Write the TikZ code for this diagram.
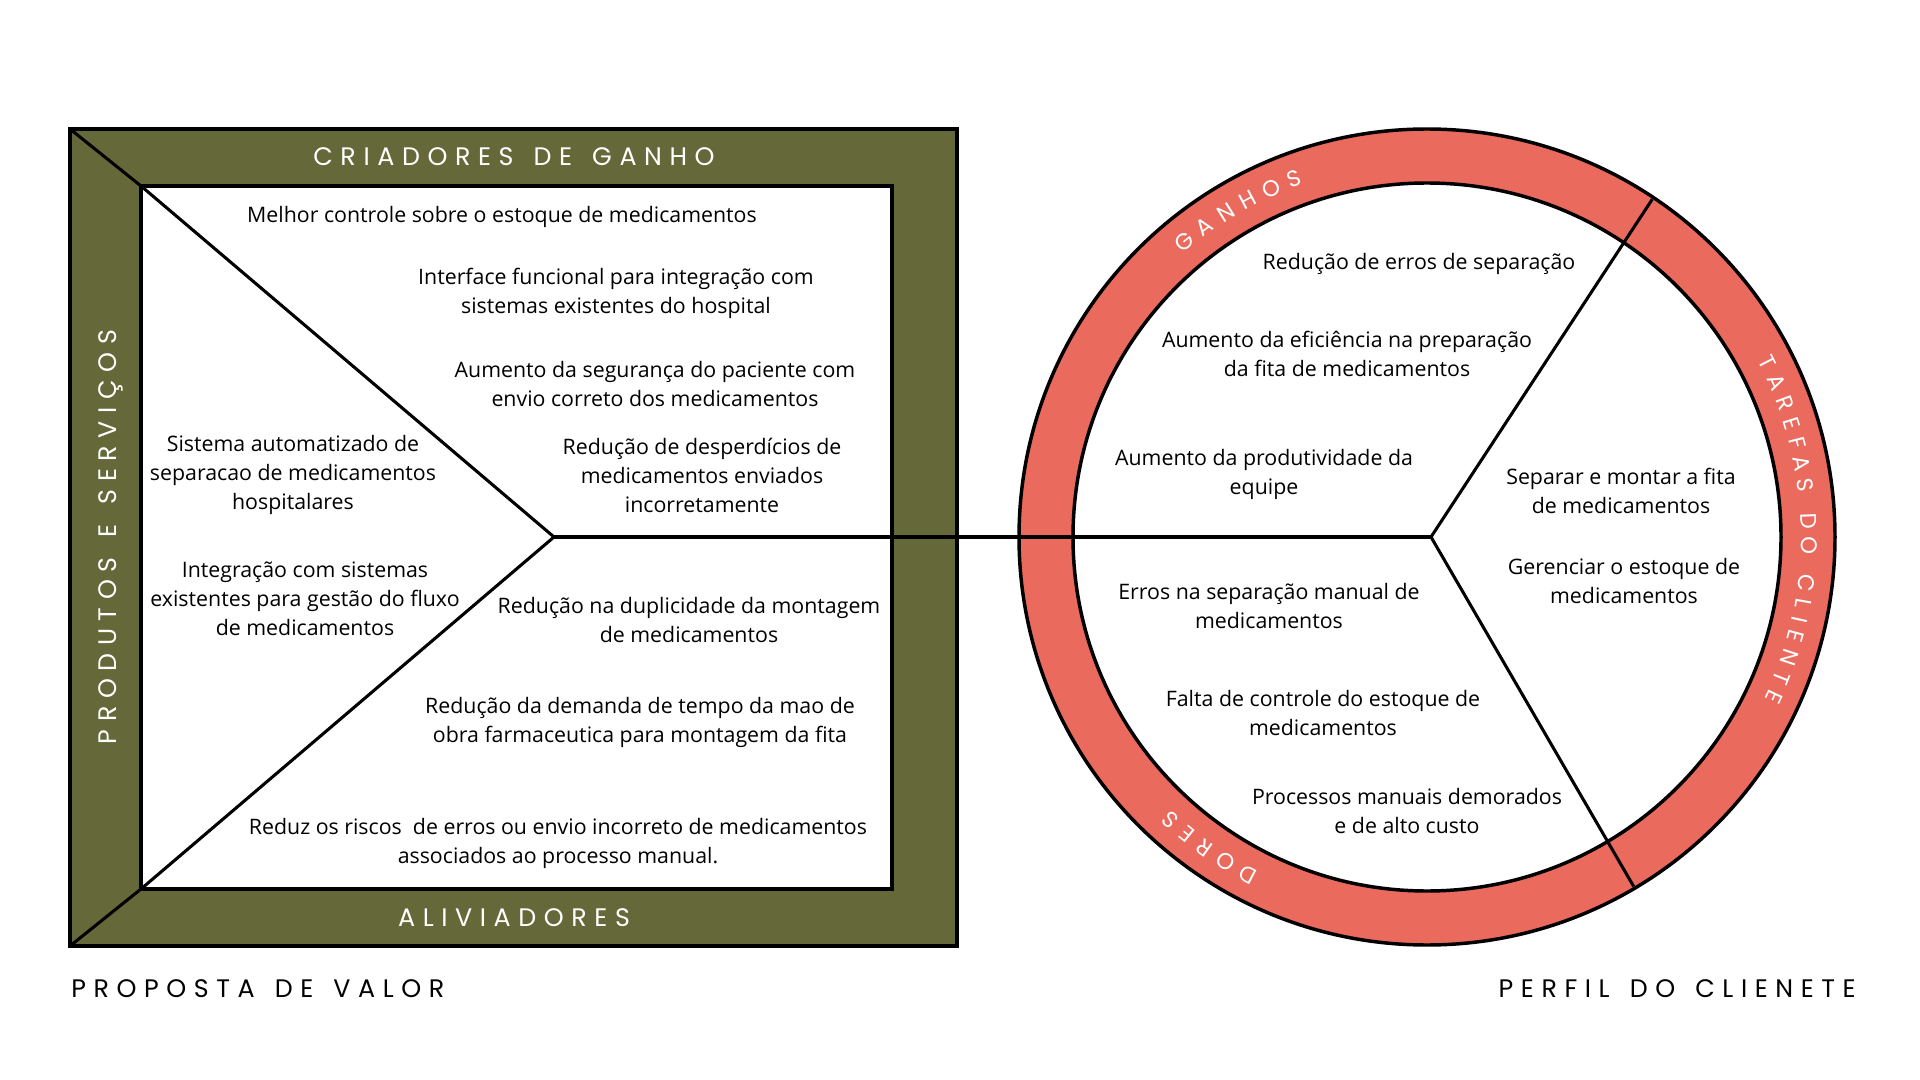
\documentclass[tikz,border=0pt]{standalone}
\usepackage{fontspec}
\setmainfont{Open Sans}
\newfontfamily\hdrfont[LetterSpace=30,WordSpace=1.4]{Poppins}
\newfontfamily\ringfnt{Poppins}
\definecolor{vpgreen}{HTML}{656939}
\definecolor{cpred}{HTML}{EA6A5E}
\def\spmark{_}
\def\ringem{22.67}
% #1 centre angle, #2 radius, #3 letter/width(em) list, #4 tracking (px)
\newcommand\ringtext[4]{%
  \gdef\rtot{0}%
  \foreach \ch/\cw in {#3}{%
    \pgfmathsetmacro\tmpv{\rtot+\cw*\ringem+#4}%
    \xdef\rtot{\tmpv}%
  }%
  \pgfmathsetmacro\tmpv{#1+(\rtot-#4)/2/(#2)*180/pi}%
  \xdef\rta{\tmpv}%
  \foreach \ch/\cw in {#3}{%
    \pgfmathsetmacro\cang{\rta-\cw*\ringem/2/(#2)*180/pi}%
    \ifx\ch\spmark\else\node[ringlbl, rotate=\cang-90] at (\cang:#2) {\ch};\fi
    \pgfmathsetmacro\tmpv{\rta-(\cw*\ringem+#4)/(#2)*180/pi}%
    \xdef\rta{\tmpv}%
  }%
}
\begin{document}
\begin{tikzpicture}[x=0.75pt,y=0.75pt,
  txt/.style={font=\fontsize{16}{21.75}\selectfont, align=center, inner sep=0pt},
  hdr/.style={font=\hdrfont\fontsize{19}{19}\selectfont, text=white, inner sep=0pt, text depth=0pt},
  ringlbl/.style={text=white, inner sep=0pt, text depth=0pt, font=\ringfnt\fontsize{17}{17}\selectfont},
  frame/.style={draw=black, line width=2.6pt},
  thin/.style={draw=black, line width=2.3pt}]
\fill[white] (0,0) rectangle (1920,-1080);
\useasboundingbox (0,0) rectangle (1920,-1080);

% ---------------- value proposition square
\coordinate (otl) at (70,-129);
\coordinate (obr) at (957,-946);
\coordinate (obl) at (70,-946);
\coordinate (itl) at (141,-186);
\coordinate (ibr) at (892,-889);
\coordinate (ibl) at (141,-889);
\coordinate (vl) at (554,-537);
\fill[vpgreen] (otl) rectangle (obr);
\draw[frame] (otl) rectangle (obr);
\fill[white] (itl) rectangle (ibr);
\draw[frame] (itl) rectangle (ibr);
\draw[thin] (otl) -- (itl) -- (vl) -- (ibl) -- (obl);

% ---------------- customer profile circle
\coordinate (cc) at (1427,-537);
\coordinate (vr) at (1431,-537);
\fill[cpred] (cc) circle[radius=408];
\draw[frame] (cc) circle[radius=408];
\fill[white] (cc) circle[radius=354];
\draw[frame] (cc) circle[radius=354];
\path (cc) ++(56.3:406) coordinate (su);
\path (cc) ++(-59.4:406) coordinate (sd);
\draw[thin] (su) -- (vr) -- (sd);
\draw[thin] (vl) -- (vr);

% ring labels
\begin{scope}[shift={(1427,-537)}]
\ringtext{120}{382}{G/.74,A/.71,N/.74,H/.73,O/.79,S/.60}{9}
\ringtext{1.2}{382}{T/.60,A/.71,R/.65,E/.57,F/.55,A/.71,S/.60,_/.27,D/.73,O/.79,_/.27,C/.72,L/.52,I/.28,E/.57,N/.74,T/.60,E/.57}{7.2}
\ringtext{235}{382}{D/.73,O/.79,R/.65,E/.57,S/.60}{8.6}
\end{scope}

% ---------------- headers
\node[hdr] (cg) at (514,-157) {CRIADORES DE GANHO};
\node[hdr] (al) at (514,-918) {ALIVIADORES};
\node[hdr, rotate=90] (ps) at (108,-537) {PRODUTOS E SERVIÇOS};
\node[hdr, text=black, anchor=west] (pv) at (71,-989) {PROPOSTA DE VALOR};
\node[hdr, text=black, anchor=east] (pc) at (1856,-989) {PERFIL DO CLIENETE};

% ---------------- value proposition texts
\node[txt] (g1) at (502,-217) {Melhor controle sobre o estoque de medicamentos};
\node[txt] (g2) at (616,-293) {Interface funcional para integração com\\sistemas existentes do hospital};
\node[txt] (g3) at (655,-384) {Aumento da segurança do paciente com\\envio correto dos medicamentos};
\node[txt] (g4) at (702,-475) {Redução de desperdícios de\\medicamentos enviados\\incorretamente};
\node[txt] (p1) at (293,-475) {Sistema automatizado de\\separacao de medicamentos\\hospitalares};
\node[txt] (p2) at (305,-599) {Integração com sistemas\\existentes para gestão do fluxo\\de medicamentos};
\node[txt] (a1) at (689,-620) {Redução na duplicidade da montagem\\de medicamentos};
\node[txt] (a2) at (640,-722) {Redução da demanda de tempo da mao de\\obra farmaceutica para montagem da fita};
\node[txt] (a3) at (558,-843) {Reduz os riscos\ \ de erros ou envio incorreto de medicamentos\\associados ao processo manual.};

% ---------------- customer profile texts
\node[txt] (ga1) at (1419,-264) {Redução de erros de separação};
\node[txt] (ga2) at (1347,-354) {Aumento da eficiência na preparação\\da fita de medicamentos};
\node[txt] (ga3) at (1264,-474) {Aumento da produtividade da\\equipe};
\node[txt] (t1) at (1621,-491) {Separar e montar a fita\\de medicamentos};
\node[txt] (t2) at (1624,-581) {Gerenciar o estoque de\\medicamentos};
\node[txt] (d1) at (1269,-606) {Erros na separação manual de\\medicamentos};
\node[txt] (d2) at (1323,-713) {Falta de controle do estoque de\\medicamentos};
\node[txt] (d3) at (1407,-811) {Processos manuais demorados\\e de alto custo};
\end{tikzpicture}
\end{document}
